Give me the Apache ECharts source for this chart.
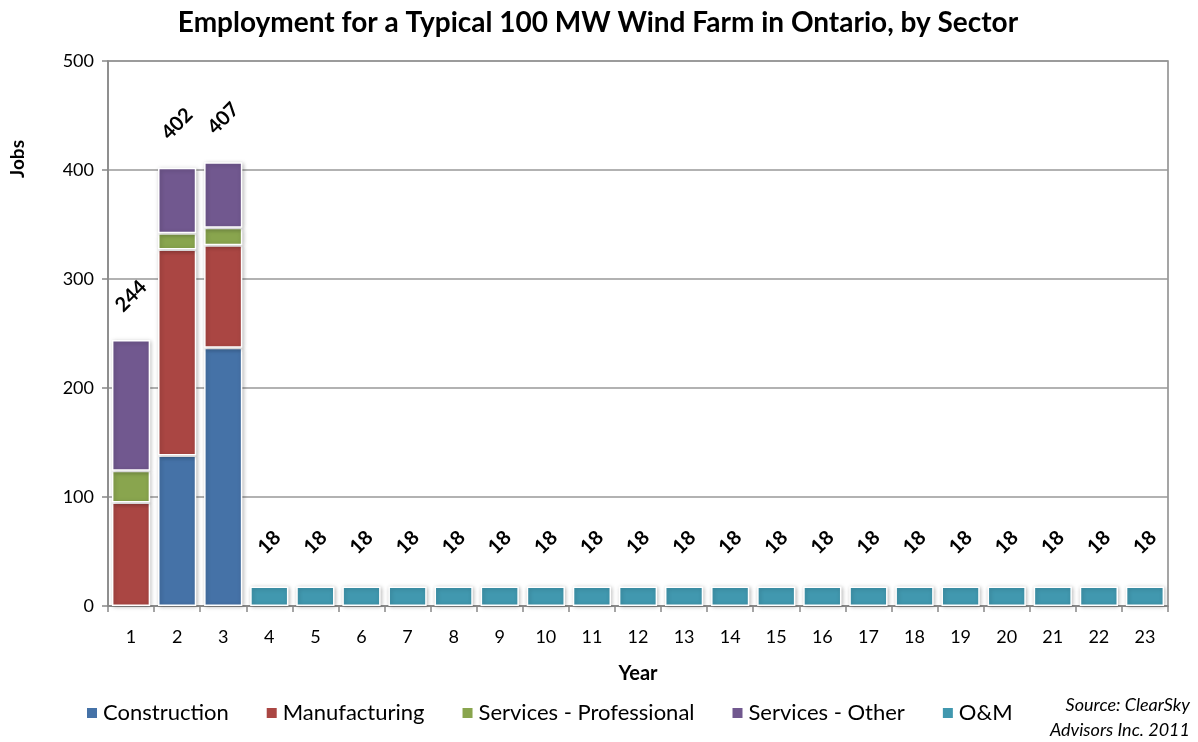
<!DOCTYPE html>
<html><head><meta charset="utf-8">
<script src="https://cdn.jsdelivr.net/npm/echarts@6/dist/echarts.min.js"></script>
<style>html,body{margin:0;padding:0;background:#fff}#c{width:1198px;height:742px}</style>
</head><body><div id="c"></div>
<script>
const years = ['1','2','3','4','5','6','7','8','9','10','11','12','13','14','15','16','17','18','19','20','21','22','23'];
const construction = [0,138,237,0,0,0,0,0,0,0,0,0,0,0,0,0,0,0,0,0,0,0,0];
const manufacturing = [95,189,94,0,0,0,0,0,0,0,0,0,0,0,0,0,0,0,0,0,0,0,0];
const servicesProfessional = [29,15,16,0,0,0,0,0,0,0,0,0,0,0,0,0,0,0,0,0,0,0,0];
const servicesOther = [120,60,60,0,0,0,0,0,0,0,0,0,0,0,0,0,0,0,0,0,0,0,0];
const om = [0,0,0,18,18,18,18,18,18,18,18,18,18,18,18,18,18,18,18,18,18,18,18];
const yTicks = [0,100,200,300,400,500];

const FONT = 'Lato, "Open Sans", sans-serif';
const colors = ['#4572A7','#AA4643','#89A54E','#71588F','#4198AF'];
const names = ['Construction','Manufacturing','Services - Professional','Services - Other','O&M'];
const allSeries = [construction, manufacturing, servicesProfessional, servicesOther, om];
const totals = years.map((_, i) => allSeries.reduce((s, a) => s + a[i], 0));

function topIndex(i){ let t=-1; allSeries.forEach((a,k)=>{ if(a[i]>0) t=k; }); return t; }

const totalLabel = {
  show: true, position: 'top', distance: 44, rotate: 45,
  align: 'center', verticalAlign: 'middle',
  fontFamily: FONT, fontWeight: 'bold', fontSize: 20, color: '#000'
};

const series = allSeries.map((arr, k) => ({
  name: names[k], type: 'bar', stack: 'jobs',
  barCategoryGap: '17%',
  itemStyle: { color: colors[k], borderColor: '#fff', borderWidth: 1.5,
    shadowColor: 'rgba(0,0,0,0.25)', shadowBlur: 4, shadowOffsetX: 1, shadowOffsetY: 1 },
  emphasis: { disabled: true },
  data: arr.map((v, i) => v === 0 ? '-' : (topIndex(i) === k
    ? { value: v, label: Object.assign({}, totalLabel, { formatter: String(totals[i]) }) }
    : v))
}));

const chart = echarts.init(document.getElementById('c'), null, { renderer: 'canvas' });
chart.setOption({
  animation: false,
  color: colors,
  title: { text: 'Employment for a Typical 100 MW Wind Farm in Ontario, by Sector',
    left: 593, top: 4, textAlign: 'center',
    textStyle: { fontFamily: FONT, fontWeight: 'bold', fontSize: 28, color: '#000' } },
  grid: { left: 108, right: 30, top: 61, bottom: 136, show: true, borderColor: '#888', borderWidth: 1.5 },
  legend: {
    left: 80, top: 697, itemWidth: 12, itemHeight: 12, itemGap: 36, icon: 'rect',
    textStyle: { fontFamily: FONT, fontSize: 22, color: '#000' },
    data: names
  },
  xAxis: {
    type: 'category', data: years,
    name: 'Year', nameLocation: 'middle', nameGap: 58,
    nameTextStyle: { fontFamily: FONT, fontWeight: 'bold', fontSize: 20, color: '#000' },
    axisLine: { lineStyle: { color: '#888', width: 1.5 } },
    axisTick: { show: true, length: 6, lineStyle: { color: '#888', width: 1.5 } },
    axisLabel: { fontFamily: FONT, fontSize: 18, color: '#000', margin: 22 }
  },
  yAxis: {
    type: 'value', min: 0, max: 500, interval: 100,
    axisLine: { show: true, lineStyle: { color: '#888', width: 1.5 } },
    axisTick: { show: true, length: 6, lineStyle: { color: '#888', width: 1.5 } },
    splitLine: { lineStyle: { color: '#999', width: 1.5 } },
    axisLabel: { fontFamily: FONT, fontSize: 18, color: '#000', margin: 14,
      formatter: v => yTicks.includes(v) ? String(v) : '' }
  },
  graphic: [
    { type: 'text', left: 8, top: 140, rotation: Math.PI/2,
      style: { text: 'Jobs', fontFamily: FONT, fontWeight: 'bold', fontSize: 19, fill: '#000' } },
    { type: 'text', right: 8, top: 696,
      style: { text: 'Source: ClearSky', fontFamily: FONT, fontStyle: 'italic', fontSize: 18, fill: '#000' } },
    { type: 'text', right: 8, top: 721,
      style: { text: 'Advisors Inc. 2011', fontFamily: FONT, fontStyle: 'italic', fontSize: 18, fill: '#000' } }
  ],
  series: series
});
</script></body></html>
